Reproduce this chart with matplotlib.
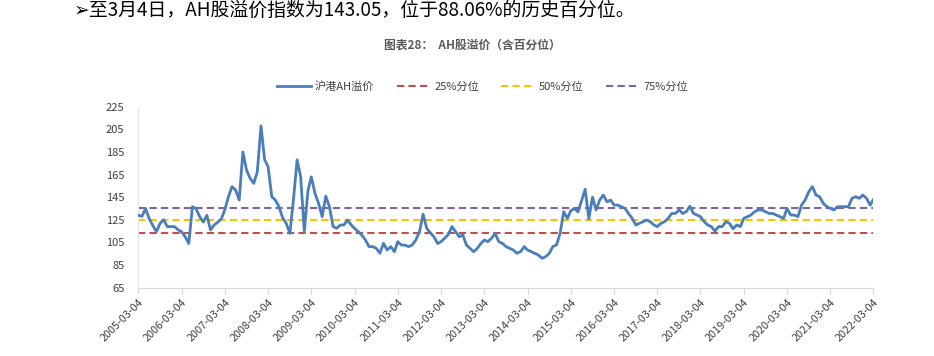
import numpy as np
import pandas as pd
import matplotlib
matplotlib.use('Agg')
import matplotlib.pyplot as plt

plt.rcParams['font.family'] = ['Noto Sans CJK SC', 'DejaVu Sans']

# monthly readings (4th of each month), one list per Mar..Feb year
ah_2005 = [129, 128, 135, 126, 120, 114.5, 122, 125, 119, 119, 119, 116]
ah_2006 = [114.5, 110, 104, 136.6, 135, 127.8, 123, 129, 116, 120.4, 123, 126]
ah_2007 = [133.7, 145.4, 154.3, 151.3, 142.5, 185, 169, 161.7, 157.2, 167.5, 208, 178]
ah_2008 = [172, 145.4, 142.5, 136.6, 127, 121.9, 113, 142.5, 178, 163, 115, 151]
ah_2009 = [163, 148.4, 139.6, 127.8, 146, 136.6, 119, 117.5, 120.4, 120.4, 124.8, 120.4]
ah_2010 = [117.5, 114.5, 111.6, 107.2, 101.3, 101.3, 99.8, 95.4, 104.2, 98.3, 101.3, 96.8]
ah_2011 = [105.7, 102.7, 102.7, 101.3, 102.7, 107.2, 114.5, 130, 117.5, 113.5, 110, 104]
ah_2012 = [105.7, 108.7, 112, 119, 114.5, 110, 111.6, 102.7, 99.8, 96.8, 99.8, 104.2]
ah_2013 = [107.2, 105.7, 108.7, 113, 105.7, 104.2, 101.3, 99.8, 98.3, 95.4, 96.8, 101.3]
ah_2014 = [98.3, 96.8, 95.4, 93.9, 91, 92.4, 95.4, 101.3, 102.7, 113, 132.2, 126.3]
ah_2015 = [133, 135, 132, 142, 152, 126, 145, 133.7, 142.5, 146.9, 141, 142.5]
ah_2016 = [138, 138, 136.6, 135.1, 130.6, 126.3, 120.4, 121.9, 123.3, 124.8, 123.3, 120.4]
ah_2017 = [119, 121.9, 123.3, 126.3, 130.6, 130.6, 133.7, 130.6, 132.2, 137, 130.6, 129.2]
ah_2018 = [127.8, 123.3, 120.4, 119, 115, 119, 119, 123.3, 121.9, 117, 120.4, 119]
ah_2019 = [126.3, 127.8, 129.2, 132.2, 133.7, 133.7, 132.2, 130.6, 130.6, 129.2, 127.8, 126.3]
ah_2020 = [135.1, 129.2, 129.2, 127.8, 138, 142.5, 149.9, 154.3, 146.9, 145.4, 139.6, 136.6]
ah_2021 = [135.1, 133.7, 136.6, 136.6, 136.6, 136.6, 144, 145.4, 144, 146.9, 144, 138]
ah_2022 = [143.05]

p25 = 113.3
p50 = 125.2
p75 = 135.2

series_label = '沪港AH溢价'
pct_labels = ['25%分位', '50%分位', '75%分位']
header = '➢至3月4日，AH股溢价指数为143.05，位于88.06%的历史百分位。'
title = '图表28：  AH股溢价（含百分位）'

values = (ah_2005 + ah_2006 + ah_2007 + ah_2008 + ah_2009 + ah_2010 + ah_2011 + ah_2012
          + ah_2013 + ah_2014 + ah_2015 + ah_2016 + ah_2017 + ah_2018 + ah_2019 + ah_2020
          + ah_2021 + ah_2022)
dates = pd.date_range('2005-03-04', periods=len(values), freq=pd.DateOffset(months=1))
ticks = pd.date_range('2005-03-04', '2022-03-04', freq=pd.DateOffset(years=1))

fig = plt.figure(figsize=(9.34, 3.56), dpi=100)
ax = fig.add_axes([0.1481, 0.1919, 0.7871, 0.5084])

txt = '#404040'
ax.plot(dates, values, color='#4A7EBB', lw=2, label=series_label, zorder=3)
ax.axhline(p25, color='#C0504D', ls=(0, (3.5, 2)), lw=1.5, label=pct_labels[0])
ax.axhline(p50, color='#FFC000', ls=(0, (3.5, 2)), lw=1.5, label=pct_labels[1])
ax.axhline(p75, color='#8064A2', ls=(0, (3.5, 2)), lw=1.5, label=pct_labels[2])

ax.set_xlim(dates[0], dates[-1])
ax.set_ylim(65, 225)
ax.set_yticks(np.arange(65, 226, 20))
ax.set_xticks(ticks)
ax.set_xticklabels([d.strftime('%Y-%m-%d') for d in ticks], rotation=45, ha='right',
                   rotation_mode='anchor', fontsize=7.8, color=txt)
ax.tick_params(axis='y', length=0, labelsize=8, colors=txt, pad=10)
ax.tick_params(axis='x', length=4, color='#D9D9D9', pad=3)

for s in ['top', 'right']:
    ax.spines[s].set_visible(False)
ax.spines['left'].set_color('#E6E6E6')
ax.spines['bottom'].set_color('#D9D9D9')

fig.text(0.079, 0.972, header, fontsize=13.6, color='black', va='center', ha='left')
fig.text(0.506, 0.872, title, fontsize=8.5, fontweight='bold', color='#595959',
         ha='center', va='center')
fig.legend(loc='center', bbox_to_anchor=(0.517, 0.758), ncol=4, frameon=False,
           fontsize=8, handlelength=3, handletextpad=0.4, columnspacing=2,
           labelcolor=txt)

fig.savefig('out.png', dpi=100)
